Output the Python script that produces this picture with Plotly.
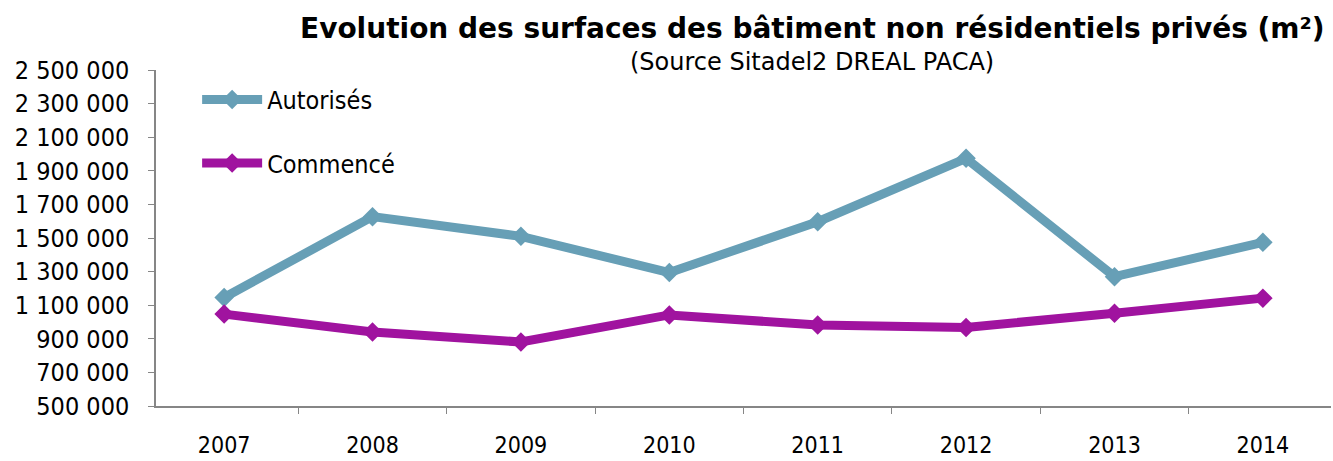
import plotly.graph_objects as go

years = ["2007", "2008", "2009", "2010", "2011", "2012", "2013", "2014"]
autorises = [1146000, 1627000, 1510000, 1294000, 1597000, 1974000, 1270000, 1474000]
commence = [1047000, 940000, 881000, 1042000, 982000, 968000, 1052000, 1142000]

title_text = "<b>Evolution des surfaces des bâtiment non résidentiels privés (m²)</b>"
subtitle_text = "(Source Sitadel2 DREAL PACA)"

FONT = "DejaVu Sans Condensed, DejaVu Sans, Verdana, sans-serif"
FONT_WIDE = "DejaVu Sans, Verdana, sans-serif"
AXIS_COLOR = "#868686"

fig = go.Figure()
fig.add_trace(go.Scatter(
    x=years, y=autorises, name="Autorisés", mode="lines+markers",
    line=dict(color="#679FB6", width=9),
    marker=dict(symbol="diamond", size=15, color="#679FB6"),
    legendgroup="a",
))
fig.add_trace(go.Scatter(
    x=years, y=commence, name="Commencé", mode="lines+markers",
    line=dict(color="#A0139F", width=9),
    marker=dict(symbol="diamond", size=15, color="#A0139F"),
    legendgroup="c",
))

W, H = 1333, 461
l, r, t, b = 156, 2, 70, 55

fig.update_layout(
    width=W, height=H,
    margin=dict(l=l, r=r, t=t, b=b),
    paper_bgcolor="white", plot_bgcolor="white",
    font=dict(family=FONT, size=24, color="black"),
    separators=", ",
    showlegend=True,
    legend=dict(
        x=0.035, y=0.98, xanchor="left", yanchor="top",
        bgcolor="rgba(0,0,0,0)", font=dict(size=25, family=FONT),
        tracegroupgap=28, itemwidth=60,
    ),
    xaxis=dict(
        type="category", showline=True, linecolor=AXIS_COLOR, linewidth=1.5,
        ticks="outside", tickson="boundaries", ticklen=6, tickcolor=AXIS_COLOR,
        showgrid=False, zeroline=False, ticklabelstandoff=18, automargin=False,
        tickfont=dict(size=23, family=FONT),
    ),
    yaxis=dict(
        range=[500000, 2500000], dtick=200000, tick0=500000,
        tickformat=",d", showline=True, linecolor=AXIS_COLOR, linewidth=1.5,
        ticks="outside", ticklen=6, tickcolor=AXIS_COLOR,
        showgrid=False, zeroline=False, ticklabelstandoff=14, automargin=False,
        tickfont=dict(size=25, family=FONT),
    ),
)

pw, ph = W - l - r, H - t - b


def px_to_paper(px, py):
    return (px - l) / pw, 1 + (t - py) / ph


tx, ty = px_to_paper(812, 28)
sx, sy = px_to_paper(812, 62)
fig.add_annotation(text=title_text, x=tx, y=ty, xref="paper", yref="paper",
                   xanchor="center", yanchor="middle", showarrow=False,
                   font=dict(size=28, family=FONT_WIDE, color="black"))
fig.add_annotation(text=subtitle_text, x=sx, y=sy, xref="paper", yref="paper",
                   xanchor="center", yanchor="middle", showarrow=False,
                   font=dict(size=24, family=FONT_WIDE, color="black"))

fig.write_html("out.html", config={"displayModeBar": False})

with open("out.html", "r", encoding="utf-8") as f:
    html = f.read()
html = html.replace("<head>", "<head><style>html,body{margin:0;padding:0;overflow:hidden;}</style>", 1)
with open("out.html", "w", encoding="utf-8") as f:
    f.write(html)
